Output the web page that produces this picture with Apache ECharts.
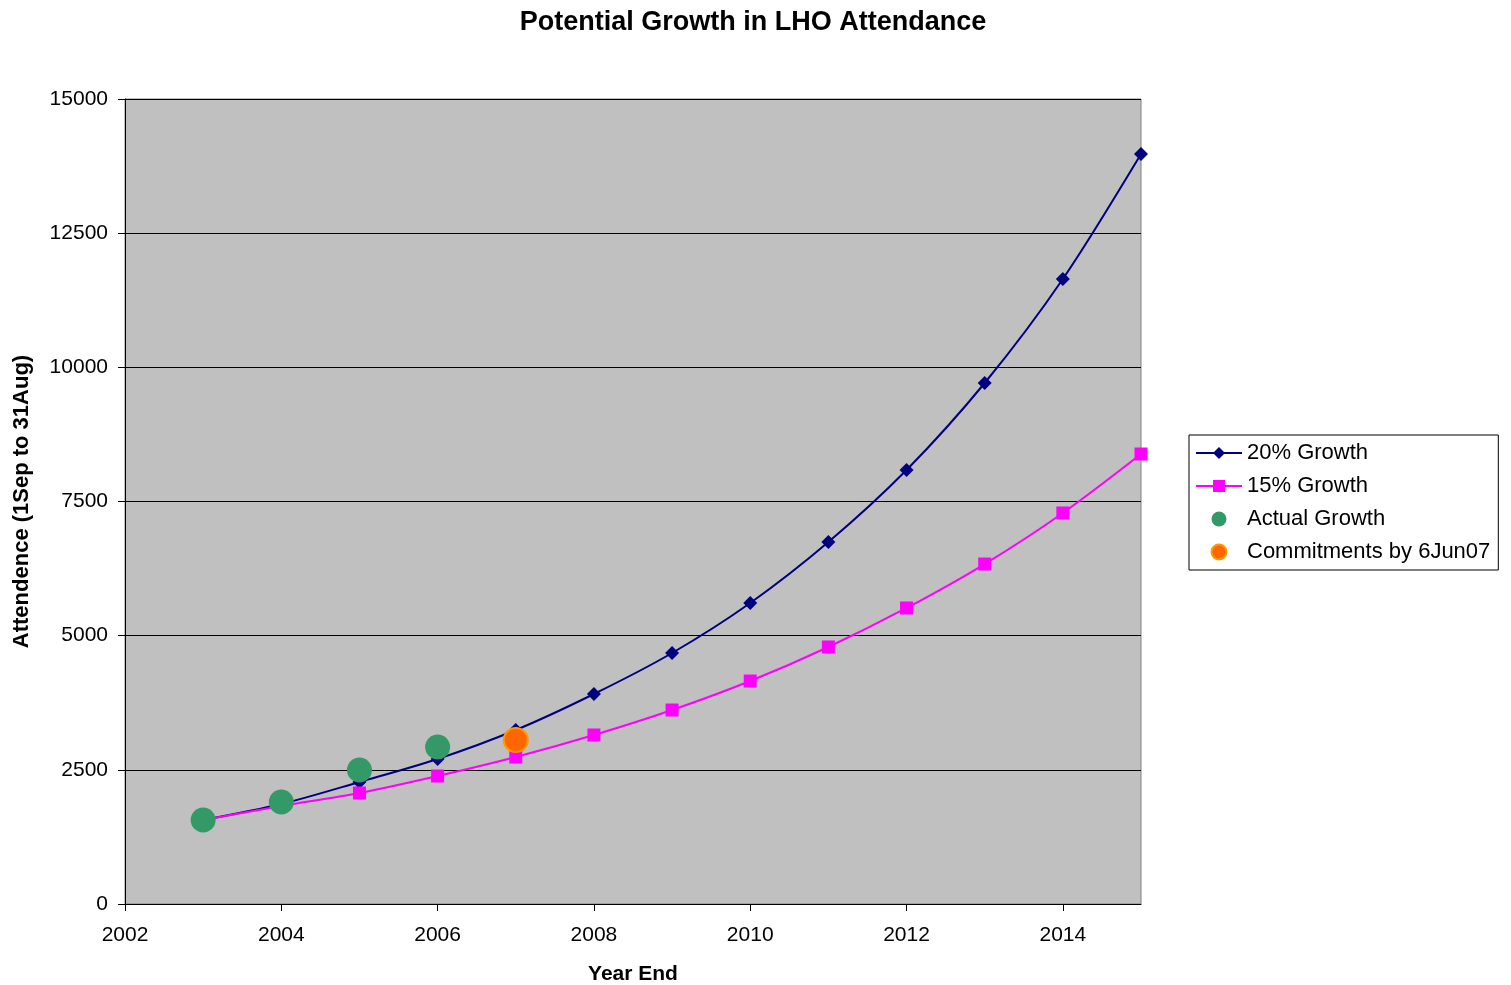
<!DOCTYPE html>
<html><head><meta charset="utf-8">
<script src="https://cdn.jsdelivr.net/npm/echarts@6/dist/echarts.min.js"></script>
<style>html,body{margin:0;padding:0;background:#fff}#c{width:1511px;height:985px}</style>
</head><body><div id="c"></div>
<script>
var years = [2003,2004,2005,2006,2007,2008,2009,2010,2011,2012,2013,2014,2015];
var growth20 = [1565,1863,2273,2702,3242,3913,4677,5609,6745,8087,9708,11646,13975];
var growth15 = [1565,1826,2068,2385,2739,3149,3615,4155,4789,5516,6335,7286,8385];
var actualYears = [2003,2004,2005,2006];
var actual = [1565,1900,2497,2925];
var commitYears = [2007];
var commit = [3056];

function pairs(xs, ys){ return xs.map(function(x,i){ return [x, ys[i]]; }); }

var chart = echarts.init(document.getElementById('c'));
var font = 'Liberation Sans, Arial, sans-serif';
chart.setOption({
  animation: false,
  textStyle: {fontFamily: font},
  title: {text: 'Potential Growth in LHO Attendance', left: 748, top: 4, textAlign: 'center',
    textStyle: {fontSize: 27, fontWeight: 'bold', color: '#000', fontFamily: font}},
  grid: {left: 125, right: 370, top: 99, bottom: 81, outerBoundsMode: 'none', containLabel: false,
    show: true, backgroundColor: '#c0c0c0', borderColor: '#808080', borderWidth: 1},
  legend: {
    orient: 'vertical', left: 1189, top: 435,
    borderColor: '#000', borderWidth: 1, padding: [7, 8, 7, 6], itemGap: 11,
    itemWidth: 46, itemHeight: 15,
    textStyle: {fontSize: 22, color: '#000', fontFamily: font},
    data: ['20% Growth','15% Growth','Actual Growth','Commitments by 6Jun07']
  },
  xAxis: {
    type: 'value', min: 2002, max: 2015, interval: 2,
    name: 'Year End', nameLocation: 'middle', nameGap: 60,
    nameTextStyle: {fontSize: 21, fontWeight: 'bold', color: '#000'},
    axisLine: {lineStyle: {color: '#000'}},
    axisTick: {show: true, length: 7, lineStyle: {color: '#000'}},
    axisLabel: {fontSize: 21, color: '#000', margin: 21, showMaxLabel: false,
      formatter: function(v){ return String(v); }},
    splitLine: {show: false}
  },
  yAxis: {
    type: 'value', min: 0, max: 15000, interval: 2500,
    name: 'Attendence (1Sep to 31Aug)', nameLocation: 'middle', nameGap: 92,
    nameTextStyle: {fontSize: 22, fontWeight: 'bold', color: '#000'},
    axisLine: {show: true, lineStyle: {color: '#000'}},
    axisTick: {show: true, length: 7, lineStyle: {color: '#000'}},
    axisLabel: {fontSize: 21, color: '#000', margin: 17,
      formatter: function(v){ return String(v); }},
    splitLine: {show: true, lineStyle: {color: '#000', width: 1}}
  },
  series: [
    {name: '20% Growth', type: 'line', smooth: 0.3, data: pairs(years, growth20),
      symbol: 'diamond', symbolSize: 14, z: 3,
      lineStyle: {color: '#000080', width: 2}, itemStyle: {color: '#000080'}},
    {name: '15% Growth', type: 'line', smooth: 0.3, data: pairs(years, growth15),
      symbol: 'rect', symbolSize: 13, z: 3,
      lineStyle: {color: '#ff00ff', width: 2}, itemStyle: {color: '#ff00ff'}},
    {name: 'Actual Growth', type: 'scatter', data: pairs(actualYears, actual),
      symbol: 'circle', symbolSize: 25, z: 4,
      itemStyle: {color: '#339966', opacity: 1}},
    {name: 'Commitments by 6Jun07', type: 'scatter', data: pairs(commitYears, commit),
      symbol: 'circle', symbolSize: 24, z: 5,
      itemStyle: {color: '#ff6600', borderColor: '#ff9900', borderWidth: 2, opacity: 1}}
  ]
});
</script></body></html>
